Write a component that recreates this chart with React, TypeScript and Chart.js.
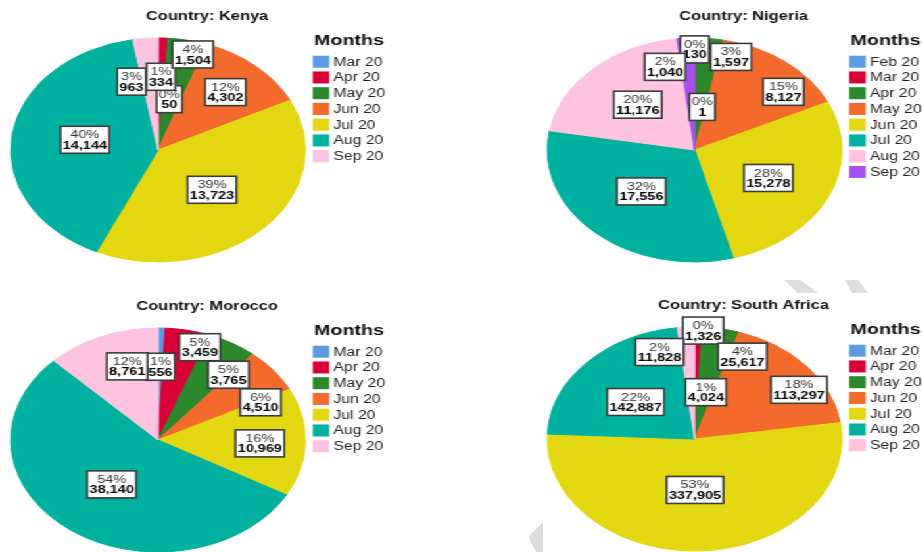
import React, { useEffect, useRef } from "react";
import { Chart, registerables } from "chart.js";

Chart.register(...registerables);

// horizontal stretch of the whole picture (pies appear as ellipses)
const STRETCH = 1.315;
const PANEL_W = 315;
const PANEL_H = 276;
const FONT = '"Liberation Sans", Arial, sans-serif';

const palette = ["#5a9be3", "#d90038", "#2b882b", "#f26b2d", "#e2d711", "#00b19f", "#fdc3df", "#a84ff2"];

const kenyaMonths = ["Mar 20", "Apr 20", "May 20", "Jun 20", "Jul 20", "Aug 20", "Sep 20"];
const kenyaValues = [50, 334, 1504, 4302, 13723, 14144, 963];

const nigeriaMonths = ["Feb 20", "Mar 20", "Apr 20", "May 20", "Jun 20", "Jul 20", "Aug 20", "Sep 20"];
const nigeriaValues = [1, 130, 1597, 8127, 15278, 17556, 11176, 1040];

const moroccoMonths = ["Mar 20", "Apr 20", "May 20", "Jun 20", "Jul 20", "Aug 20", "Sep 20"];
const moroccoValues = [556, 3459, 3765, 4510, 10969, 38140, 8761];

const southAfricaMonths = ["Mar 20", "Apr 20", "May 20", "Jun 20", "Jul 20", "Aug 20", "Sep 20"];
const southAfricaValues = [1326, 4024, 25617, 113297, 337905, 142887, 11828];

// label placement: [angle shift from slice middle (deg), distance as fraction of radius]
const kenyaLabelPlace = [[9.3, 0.46], [-0.5, 0.654], [3.8, 0.885], [0, 0.69], [0, 0.51], [3, 0.505], [-11.5, 0.636]];
const nigeriaLabelPlace = [[7.7, 0.388], [-0.4, 0.898], [10.5, 0.867], [11.3, 0.796], [1.8, 0.56], [2, 0.517], [-0.2, 0.559], [-11.7, 0.769]];
const moroccoLabelPlace = [[0, 0.654], [7.2, 0.876], [9.1, 0.754], [12.7, 0.773], [1.3, 0.692], [1.3, 0.506], [4.8, 0.69]];
const southAfricaLabelPlace = [[3.1, 0.97], [8.5, 0.425], [13.6, 0.804], [8.7, 0.834], [2.6, 0.455], [-3.4, 0.519], [-13.7, 0.812]];

type PanelProps = {
  title: string;
  months: string[];
  values: number[];
  place: number[][];
  left: number;
  top: number;
};

function PiePanel({ title, months, values, place, left, top }: PanelProps) {
  const ref = useRef<HTMLCanvasElement>(null);

  useEffect(() => {
    const total = values.reduce((a, b) => a + b, 0);
    const colors = palette.slice(0, values.length);

    const decor = {
      id: "decor",
      afterDatasetsDraw(chart: any) {
        const ctx = chart.ctx as CanvasRenderingContext2D;
        const meta = chart.getDatasetMeta(0);
        ctx.save();
        meta.data.forEach((arc: any, i: number) => {
          const p = arc.getProps(["x", "y", "startAngle", "endAngle", "outerRadius"], true);
          const mid = (p.startAngle + p.endAngle) / 2 + (place[i][0] * Math.PI) / 180;
          const r = p.outerRadius * place[i][1];
          const lx = p.x + Math.cos(mid) * r;
          const ly = p.y + Math.sin(mid) * r;
          const pct = Math.round((values[i] / total) * 100) + "%";
          const val = values[i].toLocaleString("en-US");
          ctx.font = `11px ${FONT}`;
          const w1 = ctx.measureText(pct).width;
          ctx.font = `bold 11px ${FONT}`;
          const w2 = ctx.measureText(val).width;
          const bw = Math.max(w1, w2) + 3.5;
          const bh = 27;
          const bx = lx - bw / 2;
          const by = ly - bh / 2;
          ctx.fillStyle = "#ffffff";
          ctx.fillRect(bx, by, bw, bh);
          ctx.strokeStyle = "#3c3c3c";
          ctx.lineWidth = 1.6;
          ctx.strokeRect(bx, by, bw, bh);
          ctx.textAlign = "center";
          ctx.textBaseline = "middle";
          ctx.fillStyle = "#333333";
          ctx.font = `11px ${FONT}`;
          ctx.fillText(pct, lx, by + 9);
          ctx.fillStyle = "#000000";
          ctx.font = `bold 11px ${FONT}`;
          ctx.fillText(val, lx, by + 19.5);
        });
        ctx.restore();
      },
      afterDraw(chart: any) {
        const ctx = chart.ctx as CanvasRenderingContext2D;
        ctx.save();
        ctx.textBaseline = "middle";
        // chart title
        ctx.fillStyle = "#111111";
        ctx.textAlign = "center";
        ctx.font = `bold 12.5px ${FONT}`;
        ctx.fillText(title, PANEL_W / 2, 17);
        // legend
        ctx.textAlign = "left";
        ctx.font = `bold 15px ${FONT}`;
        ctx.fillText("Months", 238.8, 40.5);
        ctx.font = `12px ${FONT}`;
        months.forEach((m, i) => {
          const cy = 61.7 + i * 15.75;
          ctx.fillStyle = colors[i];
          ctx.fillRect(237.8, cy - 6, 12.6, 12);
          ctx.fillStyle = "#222222";
          ctx.fillText(m, 253.5, cy + 0.5);
        });
        ctx.restore();
      },
    };

    const chart = new Chart(ref.current as HTMLCanvasElement, {
      type: "pie",
      data: {
        labels: months,
        datasets: [
          {
            data: values,
            backgroundColor: colors,
            borderColor: colors,
            borderWidth: 1,
            radius: 112,
          } as any,
        ],
      },
      options: {
        responsive: false,
        animation: false,
        events: [],
        layout: { padding: { left: 8.2, right: 82.8, top: 38, bottom: 14 } },
        plugins: {
          legend: { display: false },
          title: { display: false },
          tooltip: { enabled: false },
        },
      },
      plugins: [decor],
    });
    return () => chart.destroy();
  }, []);

  return (
    <canvas
      ref={ref}
      width={PANEL_W}
      height={PANEL_H}
      style={{ position: "absolute", left, top }}
    />
  );
}

export default function App() {
  const innerW = 922 / STRETCH;
  const nx = 536 / STRETCH;
  return (
    <div
      style={{
        position: "fixed",
        left: 0,
        top: 0,
        width: 922,
        height: 552,
        overflow: "hidden",
        background: "#ffffff",
      }}
    >
      <div
        style={{
          position: "absolute",
          left: 0,
          top: 0,
          width: innerW,
          height: 552,
          transform: `scaleX(${STRETCH})`,
          transformOrigin: "0 0",
        }}
      >
        <PiePanel title="Country: Kenya" months={kenyaMonths} values={kenyaValues} place={kenyaLabelPlace} left={0} top={0} />
        <PiePanel title="Country: Nigeria" months={nigeriaMonths} values={nigeriaValues} place={nigeriaLabelPlace} left={nx} top={0} />
        <PiePanel title="Country: Morocco" months={moroccoMonths} values={moroccoValues} place={moroccoLabelPlace} left={0} top={290} />
        <PiePanel title="Country: South Africa" months={southAfricaMonths} values={southAfricaValues} place={southAfricaLabelPlace} left={nx} top={289} />
      </div>
      <svg width={922} height={552} style={{ position: "absolute", left: 0, top: 0, pointerEvents: "none" }}>
        <polygon points="784,280 800,280 818,293 798,293" fill="#dedede" />
        <polygon points="845,280 858,280 868,293 852,293" fill="#dedede" />
        <polygon points="543,522 543,552 536,552 530,541 529,536" fill="#dedede" />
      </svg>
    </div>
  );
}
